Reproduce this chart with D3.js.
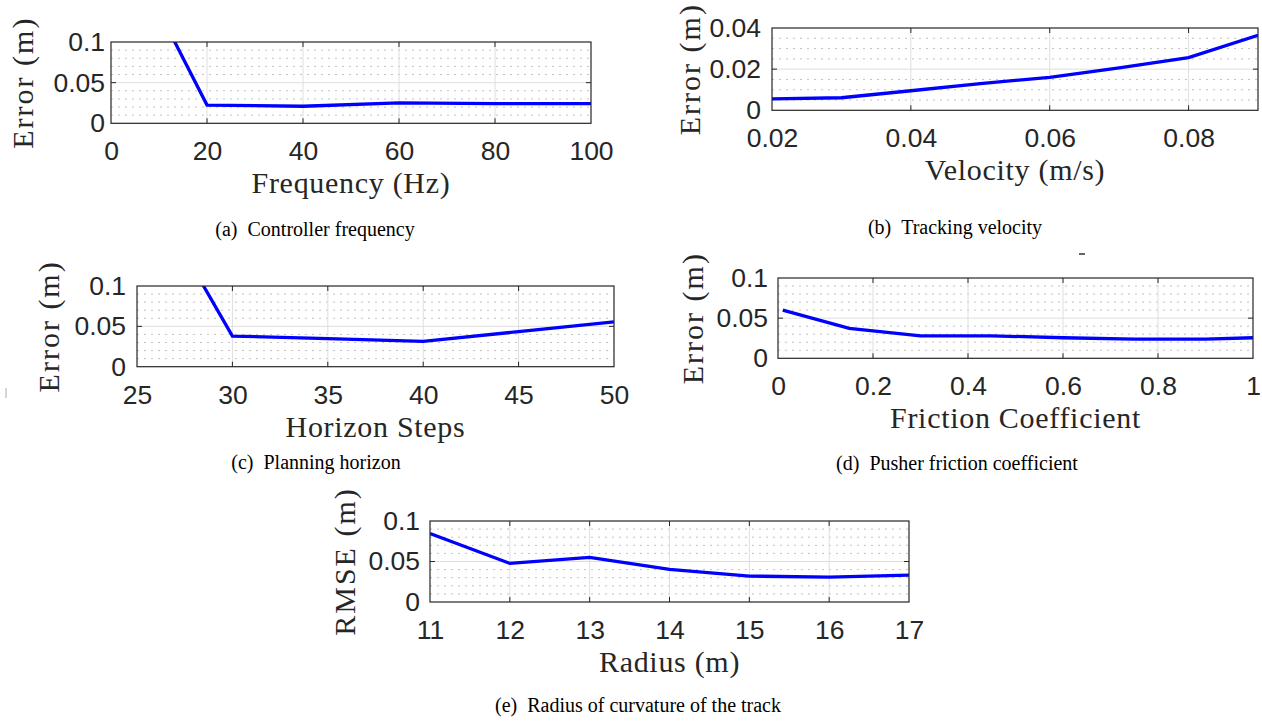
<!DOCTYPE html>
<html>
<head>
<meta charset="utf-8">
<script src="https://cdn.jsdelivr.net/npm/d3@7"></script>
<style>
  body { margin: 0; background: #fff; }
</style>
</head>
<body>
<svg id="fig" width="1262" height="722"></svg>
<script>
// values
const freqHz = [10, 20, 40, 60, 80, 100];
const freqErr = [0.138, 0.0224, 0.021, 0.0252, 0.0242, 0.0242];
const freqTicksX = [0, 20, 40, 60, 80, 100];
const freqTicksY = [0, 0.05, 0.1];

const velocity = [0.02, 0.03, 0.04, 0.05, 0.06, 0.07, 0.08, 0.09];
const velErr = [0.0056, 0.0061, 0.0095, 0.013, 0.016, 0.0206, 0.0256, 0.0365];
const velTicksX = [0.02, 0.04, 0.06, 0.08];
const velTicksY = [0, 0.02, 0.04];

const horizon = [25, 30, 35, 40, 45, 50];
const horizonErr = [0.243, 0.038, 0.0348, 0.0315, 0.0435, 0.0556];
const horizonTicksX = [25, 30, 35, 40, 45, 50];
const horizonTicksY = [0, 0.05, 0.1];

const friction = [0.01, 0.15, 0.3, 0.45, 0.6, 0.75, 0.9, 1.0];
const frictionErr = [0.060, 0.0372, 0.028, 0.028, 0.0256, 0.024, 0.024, 0.0256];
const frictionTicksX = [0, 0.2, 0.4, 0.6, 0.8, 1];
const frictionTicksY = [0, 0.05, 0.1];

const radius = [11, 12, 13, 14, 15, 16, 17];
const radiusRmse = [0.0845, 0.0476, 0.055, 0.0402, 0.032, 0.0307, 0.0332];
const radiusTicksX = [11, 12, 13, 14, 15, 16, 17];
const radiusTicksY = [0, 0.05, 0.1];

const svg = d3.select("#fig");
const INK = "#262626";
const SERIF = "'Liberation Serif', 'Times New Roman', serif";

const panels = [
  { x: freqHz, y: freqErr, xt: freqTicksX, yt: freqTicksY, xd: [0, 100], yd: [0, 0.1], minor: 0.01,
    xLabel: "Frequency (Hz)", yLabel: "Error (m)", cap: "(a)\u2002Controller frequency",
    l: 111, r: 591, t: 42, b: 123.3, lab: 78, gap: 6, capX: 315, capY: 236 },
  { x: velocity, y: velErr, xt: velTicksX, yt: velTicksY, xd: [0.02, 0.09], yd: [0, 0.04], minor: 0.005,
    xLabel: "Velocity (m/s)", yLabel: "Error (m)", cap: "(b)\u2002Tracking velocity",
    l: 772, r: 1258, t: 28, b: 110.3, lab: 72, gap: 11, capX: 955, capY: 234 },
  { x: horizon, y: horizonErr, xt: horizonTicksX, yt: horizonTicksY, xd: [25, 50], yd: [0, 0.1], minor: 0.01,
    xLabel: "Horizon Steps", yLabel: "Error (m)", cap: "(c)\u2002Planning horizon",
    l: 137, r: 614, t: 286, b: 366.7, lab: 78, gap: 11, capX: 316, capY: 469 },
  { x: friction, y: frictionErr, xt: frictionTicksX, yt: frictionTicksY, xd: [0, 1], yd: [0, 0.1], minor: 0.01,
    xLabel: "Friction Coefficient", yLabel: "Error (m)", cap: "(d)\u2002Pusher friction coefficient",
    l: 778, r: 1253, t: 278, b: 358.3, lab: 75, gap: 10, capX: 957, capY: 470 },
  { x: radius, y: radiusRmse, xt: radiusTicksX, yt: radiusTicksY, xd: [11, 17], yd: [0, 0.1], minor: 0.01,
    xLabel: "Radius (m)", yLabel: "RMSE (m)", cap: "(e)\u2002Radius of curvature of the track",
    l: 430, r: 909, t: 521, b: 602, lab: 75, gap: 10, capX: 638, capY: 712 }
];

panels.forEach((p, i) => {
  const w = p.r - p.l, h = p.b - p.t;
  const x = d3.scaleLinear().domain(p.xd).range([0, w]);
  const y = d3.scaleLinear().domain(p.yd).range([h, 0]);
  const g = svg.append("g").attr("transform", `translate(${p.l},${p.t})`);

  g.append("clipPath").attr("id", "clip" + i)
    .append("rect").attr("width", w).attr("height", h);

  // minor grid (dotted, horizontal only)
  const minors = d3.range(p.yd[0] + p.minor, p.yd[1] - p.minor / 2, p.minor)
    .filter(v => !p.yt.some(t => Math.abs(t - v) < p.minor / 10));
  g.selectAll(".minor").data(minors).join("line")
    .attr("x1", 0).attr("x2", w)
    .attr("y1", d => y(d)).attr("y2", d => y(d))
    .attr("stroke", "#c2c2c2").attr("stroke-width", 1)
    .attr("stroke-dasharray", "2,5");

  // major grid
  const inner = (arr, dom) => arr.filter(v => v > dom[0] && v < dom[1]);
  g.selectAll(".gx").data(inner(p.xt, p.xd)).join("line")
    .attr("x1", d => x(d)).attr("x2", d => x(d)).attr("y1", 0).attr("y2", h)
    .attr("stroke", "#dedede").attr("stroke-width", 1);
  g.selectAll(".gy").data(inner(p.yt, p.yd)).join("line")
    .attr("y1", d => y(d)).attr("y2", d => y(d)).attr("x1", 0).attr("x2", w)
    .attr("stroke", "#dedede").attr("stroke-width", 1);

  // data line
  g.append("path")
    .datum(p.x.map((v, k) => [v, p.y[k]]))
    .attr("clip-path", `url(#clip${i})`)
    .attr("fill", "none")
    .attr("stroke", "#0000ff")
    .attr("stroke-width", 3.3)
    .attr("d", d3.line().x(d => x(d[0])).y(d => y(d[1])));

  // box + inward ticks
  g.append("rect").attr("width", w).attr("height", h)
    .attr("fill", "none").attr("stroke", INK).attr("stroke-width", 1.2);
  const tk = 5;
  inner(p.xt, p.xd).forEach(v => {
    g.append("line").attr("x1", x(v)).attr("x2", x(v)).attr("y1", h).attr("y2", h - tk).attr("stroke", INK);
    g.append("line").attr("x1", x(v)).attr("x2", x(v)).attr("y1", 0).attr("y2", tk).attr("stroke", INK);
  });
  inner(p.yt, p.yd).forEach(v => {
    g.append("line").attr("y1", y(v)).attr("y2", y(v)).attr("x1", 0).attr("x2", tk).attr("stroke", INK);
    g.append("line").attr("y1", y(v)).attr("y2", y(v)).attr("x1", w).attr("x2", w - tk).attr("stroke", INK);
  });

  // tick labels
  const xa = g.append("g").attr("transform", `translate(0,${h})`)
    .call(d3.axisBottom(x).tickValues(p.xt).tickFormat(d => String(d)).tickSize(0).tickPadding(18));
  const ya = g.append("g")
    .call(d3.axisLeft(y).tickValues(p.yt).tickFormat(d => String(d)).tickSize(0).tickPadding(p.gap));
  [xa, ya].forEach(a => {
    a.select(".domain").remove();
    a.selectAll("text")
      .style("font-family", "'Liberation Sans', Arial, sans-serif")
      .style("font-size", "26.5px")
      .attr("fill", INK);
  });

  // axis labels
  g.append("text")
    .attr("x", w / 2).attr("y", h + 70)
    .attr("text-anchor", "middle")
    .style("font-family", SERIF)
    .style("font-size", "30px")
    .style("letter-spacing", "0.7px")
    .attr("fill", INK)
    .text(p.xLabel);
  g.append("text")
    .attr("transform", `translate(${-p.lab},${h / 2}) rotate(-90)`)
    .attr("text-anchor", "middle")
    .style("font-family", SERIF)
    .style("font-size", "30px")
    .style("letter-spacing", "2px")
    .attr("fill", INK)
    .text(p.yLabel);

  // caption
  svg.append("text")
    .attr("x", p.capX).attr("y", p.capY)
    .attr("text-anchor", "middle")
    .style("font-family", SERIF)
    .style("font-size", "20px")
    .attr("fill", "#000")
    .text(p.cap);
});

// small stray marks present in the source image
svg.append("line").attr("x1", 1079).attr("x2", 1085).attr("y1", 254).attr("y2", 254)
  .attr("stroke", "#333").attr("stroke-width", 1.5);
svg.append("line").attr("x1", 6).attr("x2", 6).attr("y1", 388).attr("y2", 398)
  .attr("stroke", "#aaa").attr("stroke-width", 1);
</script>
</body>
</html>
